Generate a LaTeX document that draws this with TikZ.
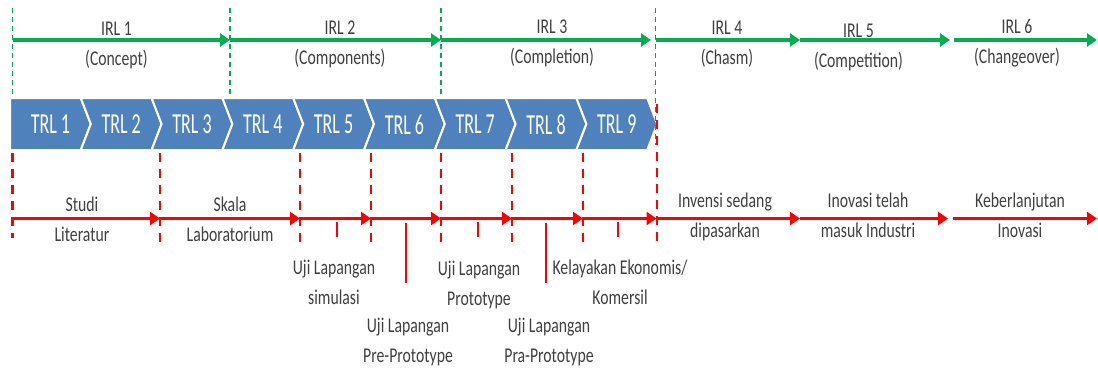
\documentclass[tikz,border=0pt]{standalone}
\usepackage{fontspec}
\setmainfont{Carlito}[FakeStretch=0.75]
\newfontfamily\trlfont{Carlito}[FakeStretch=0.62]
\usetikzlibrary{arrows.meta}

\definecolor{irlgreen}{HTML}{00B050}
\definecolor{trlblue}{HTML}{4F81BD}
\definecolor{markred}{HTML}{FF0000}
\definecolor{txtgray}{HTML}{404040}

\begin{document}
\begin{tikzpicture}[x=1pt,y=-1pt,
    irlaxis/.style={draw=irlgreen,line width=3.5pt,-{Triangle[length=10pt,width=13pt]}},
    trlaxis/.style={draw=markred,line width=3.5pt,-{Triangle[length=10pt,width=13pt]}},
    irlguide/.style={draw=irlgreen,line width=1.8pt,dash pattern=on 5pt off 4pt},
    trlguide/.style={draw=markred,line width=2.5pt,dash pattern=on 9pt off 7pt},
    redtick/.style={draw=markred,line width=2pt},
    chevron/.style={fill=trlblue,draw=white,line width=2pt},
    trllabel/.style={text=white,inner sep=0pt,font=\trlfont\fontsize{29}{34}\selectfont},
    lbl/.style={text=txtgray,align=center,inner sep=0pt,font=\fontsize{21}{30}\selectfont}]
                \useasboundingbox (0,0) rectangle (1098,367);

                % Points on the IRL axis
                \coordinate (G0) at (12.5,40);
                \coordinate (G1) at (230,40);
                \coordinate (G2) at (441,40);
                \coordinate (G3) at (651,40);
                \coordinate (G4) at (655.5,40);
                \coordinate (G5) at (800,40);
                \coordinate (G6) at (950,40);
                \coordinate (G7) at (954,40);
                \coordinate (G8) at (1097,40);

                % Points on the TRL axis
                \coordinate (R0) at (12.5,218.5);
                \coordinate (R1) at (160,218.5);
                \coordinate (R2) at (300,218.5);
                \coordinate (R3) at (371,218.5);
                \coordinate (R4) at (441,218.5);
                \coordinate (R5) at (512,218.5);
                \coordinate (R6) at (583,218.5);
                \coordinate (R7) at (656.5,218.5);
                \coordinate (R8) at (800,218.5);
                \coordinate (R9) at (948,218.5);
                \coordinate (R10) at (953,218.5);
                \coordinate (R11) at (1097,218.5);

                % Drawing chevron TRL 1
                \draw [chevron] (10.0,98) -- (80.8,98) -- (90.8,124) -- (80.8,150) -- (10.0,150) -- cycle;%
                % Drawing chevron TRL 2
                \draw [chevron] (80.8,98) -- (151.6,98) -- (161.6,124) -- (151.6,150) -- (80.8,150) -- (90.8,124) -- cycle;%
                % Drawing chevron TRL 3
                \draw [chevron] (151.6,98) -- (222.4,98) -- (232.4,124) -- (222.4,150) -- (151.6,150) -- (161.6,124) -- cycle;%
                % Drawing chevron TRL 4
                \draw [chevron] (222.4,98) -- (293.2,98) -- (303.2,124) -- (293.2,150) -- (222.4,150) -- (232.4,124) -- cycle;%
                % Drawing chevron TRL 5
                \draw [chevron] (293.2,98) -- (364.0,98) -- (374.0,124) -- (364.0,150) -- (293.2,150) -- (303.2,124) -- cycle;%
                % Drawing chevron TRL 6
                \draw [chevron] (364.0,98) -- (434.8,98) -- (444.8,124) -- (434.8,150) -- (364.0,150) -- (374.0,124) -- cycle;%
                % Drawing chevron TRL 7
                \draw [chevron] (434.8,98) -- (505.6,98) -- (515.6,124) -- (505.6,150) -- (434.8,150) -- (444.8,124) -- cycle;%
                % Drawing chevron TRL 8
                \draw [chevron] (505.6,98) -- (576.4,98) -- (586.4,124) -- (576.4,150) -- (505.6,150) -- (515.6,124) -- cycle;%
                % Drawing chevron TRL 9
                \draw [chevron] (576.4,98) -- (647.2,98) -- (657.2,124) -- (647.2,150) -- (576.4,150) -- (586.4,124) -- cycle;%

                % Marking TRL levels
                \node [trllabel] (trl1) at (50.4,124.5) {TRL 1};
                \node [trllabel] (trl2) at (121.2,124.5) {TRL 2};
                \node [trllabel] (trl3) at (192.0,124.5) {TRL 3};
                \node [trllabel] (trl4) at (262.8,124.5) {TRL 4};
                \node [trllabel] (trl5) at (333.6,124.5) {TRL 5};
                \node [trllabel] (trl6) at (404.4,124.5) {TRL 6};
                \node [trllabel] (trl7) at (475.2,124.5) {TRL 7};
                \node [trllabel] (trl8) at (546.0,124.5) {TRL 8};
                \node [trllabel] (trl9) at (616.8,124.5) {TRL 9};

                % Drawing IRL guides
                \draw [irlguide] (12.5,8) -- (12.5,95);%
                \draw [irlguide] (230,8) -- (230,95);%
                \draw [irlguide] (441,8) -- (441,95);%
                \draw [irlguide] (655.5,8) -- (655.5,145);%

                % Drawing TRL guides
                \draw [trlguide] (12.5,153) -- (12.5,238);%
                \draw [trlguide] (160,153) -- (160,245);%
                \draw [trlguide] (300,153) -- (300,245);%
                \draw [trlguide] (371,153) -- (371,245);%
                \draw [trlguide] (441,153) -- (441,245);%
                \draw [trlguide] (512,153) -- (512,245);%
                \draw [trlguide] (583,153) -- (583,245);%
                \draw [trlguide] (657,104) -- (657,247);%

                % Drawing IRL axis
                \draw [irlaxis] (G0) -- (G1);%
                \draw [irlaxis] (G1) -- (G2);%
                \draw [irlaxis] (G2) -- (G3);%
                \draw [irlaxis] (G4) -- (G5);%
                \draw [irlaxis] (G5) -- (G6);%
                \draw [irlaxis] (G7) -- (G8);%

                % Drawing TRL axis
                \draw [trlaxis] (R0) -- (R1);%
                \draw [trlaxis] (R1) -- (R2);%
                \draw [trlaxis] (R2) -- (R3);%
                \draw [trlaxis] (R3) -- (R4);%
                \draw [trlaxis] (R4) -- (R5);%
                \draw [trlaxis] (R5) -- (R6);%
                \draw [trlaxis] (R6) -- (R7);%
                \draw [trlaxis] (R7) -- (R8);%
                \draw [trlaxis] (R8) -- (R9);%
                \draw [trlaxis] (R10) -- (R11);%

                % Drawing ticks under the TRL axis
                \draw [redtick] (337,222) -- (337,237);%
                \draw [redtick] (478,222) -- (478,237);%
                \draw [redtick] (618,222) -- (618,237);%
                \draw [redtick] (406,223) -- (406,283);%
                \draw [redtick] (546,223) -- (546,283);%

                % Marking IRL levels
                \node [lbl] (irl1) at (116.5,44) {\strut IRL 1\\(Concept)\strut};
                \node [lbl] (irl2) at (340,43) {\strut IRL 2\\(Components)\strut};
                \node [lbl] (irl3) at (552,42) {\strut IRL 3\\(Completion)\strut};
                \node [lbl] (irl4) at (727,43) {\strut IRL 4\\(Chasm)\strut};
                \node [lbl] (irl5) at (858.5,46) {\strut IRL 5\\(Competition)\strut};
                \node [lbl] (irl6) at (1017,42) {\strut IRL 6\\(Changeover)\strut};

                % Marking stages on the TRL axis
                \node [lbl] (studi) at (82,220) {\strut Studi\\Literatur\strut};
                \node [lbl] (skala) at (230,220) {\strut Skala\\Laboratorium\strut};
                \node [lbl] (invensi) at (725,216) {\strut Invensi sedang\\dipasarkan\strut};
                \node [lbl] (inovasi) at (868,216) {\strut Inovasi telah\\masuk Industri\strut};
                \node [lbl] (lanjut) at (1020,216) {\strut Keberlanjutan\\Inovasi\strut};

                % Marking field tests
                \node [lbl] (simulasi) at (334,283) {\strut Uji Lapangan\\simulasi\strut};
                \node [lbl] (preproto) at (408,341) {\strut Uji Lapangan\\Pre-Prototype\strut};
                \node [lbl] (proto) at (479,284) {\strut Uji Lapangan\\Prototype\strut};
                \node [lbl] (praproto) at (549,341) {\strut Uji Lapangan\\Pra-Prototype\strut};
                \node [lbl] (komersil) at (620,283) {\strut Kelayakan Ekonomis/\\Komersil\strut};
\end{tikzpicture}
\end{document}
